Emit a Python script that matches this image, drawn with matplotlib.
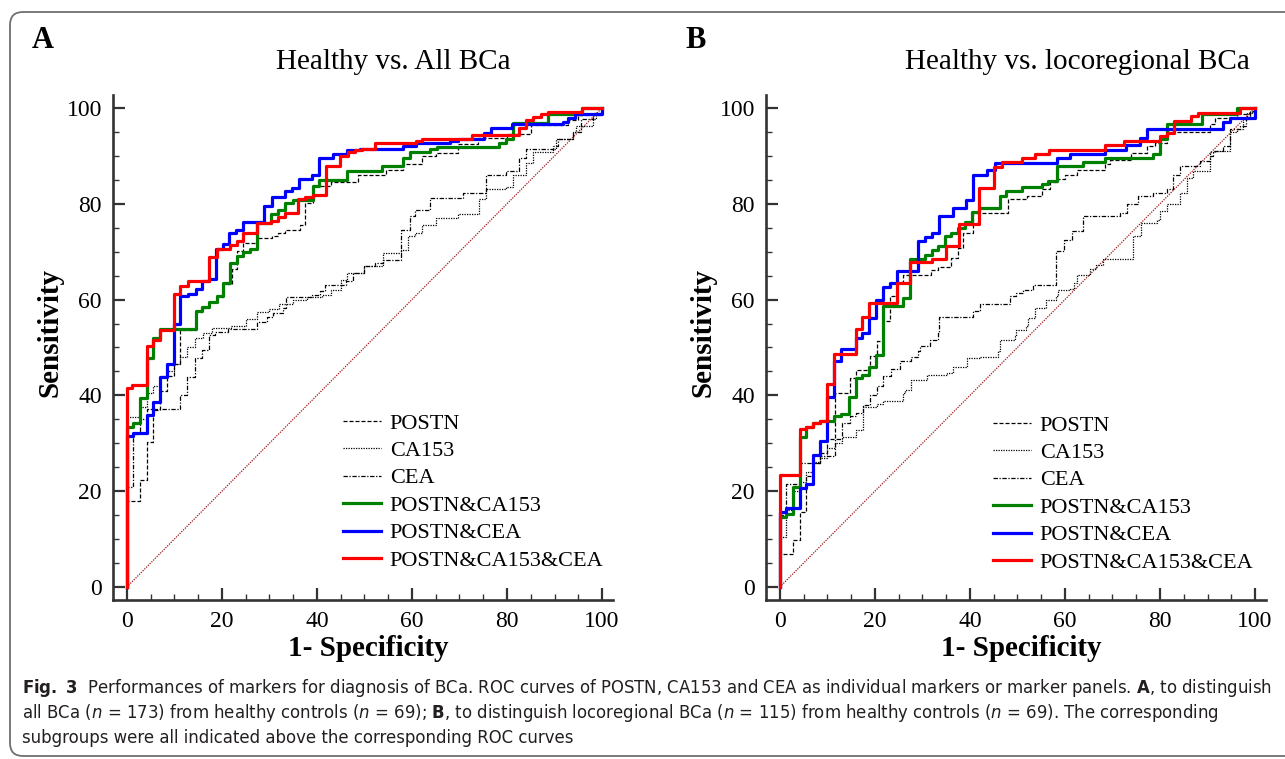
import matplotlib
matplotlib.use('Agg')
import matplotlib.pyplot as plt
from matplotlib.patches import FancyBboxPatch
from matplotlib.ticker import MultipleLocator

plt.rcParams['font.family'] = ['Liberation Serif', 'DejaVu Serif']
plt.rcParams['mathtext.fontset'] = 'custom'
plt.rcParams['mathtext.rm'] = 'DejaVu Sans:stretch=condensed'
plt.rcParams['mathtext.it'] = 'DejaVu Sans:slant=italic:stretch=condensed'
plt.rcParams['mathtext.bf'] = 'DejaVu Sans:weight=bold:stretch=condensed'

# ── data: ROC corner points (1-specificity, sensitivity), step "post" ─────────
a_postn = [(0, 0), (0, 18.0), (2.8, 22.3), (4.2, 30.3), (5.6, 37.0), (7.0, 41.0),
           (8.5, 44.0), (10.0, 46.5), (11.3, 53.7), (14.6, 57.5), (15.9, 58.2),
           (17.4, 59.4), (18.9, 60.5), (20.2, 63.3), (22.1, 66.3), (23.1, 70.1),
           (24.5, 71.9), (27.3, 72.9), (30.5, 73.3), (31.9, 74.0), (33.3, 74.5),
           (36.4, 75.5), (37.5, 80.2), (39.1, 83.7), (42.9, 84.5), (48.6, 86.1),
           (54.6, 87.1), (58.1, 88.2), (62.2, 90.0), (65.0, 90.5), (69.6, 92.4),
           (73.9, 93.8), (80.0, 94.5), (85.0, 96.5), (92.8, 97.5), (95.0, 98.5),
           (100, 100)]
a_ca153 = [(0, 0), (0, 35.5), (2.8, 37.5), (4.2, 40.5), (5.6, 42.0), (7.0, 44.0),
           (8.5, 45.0), (10.0, 46.5), (11.3, 48.0), (12.6, 50.0), (14.4, 52.0),
           (16.0, 53.0), (18.0, 54.0), (22.0, 54.5), (25.0, 56.0), (27.5, 57.5),
           (30.0, 58.0), (32.0, 59.0), (35.0, 60.0), (38.0, 60.5), (41.0, 61.0),
           (43.0, 62.0), (45.0, 64.0), (46.3, 65.6), (50.0, 67.0), (54.0, 69.7),
           (57.8, 70.4), (59.1, 73.2), (60.6, 73.9), (62.2, 75.6), (65.1, 77.1),
           (69.6, 77.8), (74.2, 80.9), (75.6, 83.0), (79.8, 83.4), (81.2, 86.1),
           (84.0, 88.6), (85.4, 90.7), (89.6, 91.4), (90.3, 93.5), (93.8, 94.9),
           (94.5, 96.3), (98.0, 97.6), (98.7, 99.0), (100, 100)]
a_cea = [(0, 0), (0, 20.8), (1.4, 32.0), (2.8, 35.0), (4.2, 37.1), (11.2, 40.1),
         (12.6, 43.9), (14.4, 47.8), (15.9, 49.5), (17.2, 52.6), (18.5, 53.3),
         (21.4, 53.8), (27.3, 55.4), (29.4, 56.4), (30.8, 57.1), (32.9, 58.2),
         (33.6, 60.6), (38.9, 61.0), (40.6, 61.7), (41.7, 63.1), (46.2, 63.8),
         (47.6, 65.6), (50.0, 67.0), (52.2, 67.6), (54.0, 68.3), (57.8, 74.6),
         (59.5, 77.4), (60.6, 78.8), (63.7, 81.2), (70.7, 82.3), (75.6, 86.1),
         (79.8, 86.8), (82.6, 89.6), (84.0, 91.4), (89.6, 92.1), (90.7, 93.5),
         (93.8, 94.9), (95.6, 97.6), (98.0, 99.0), (100, 100)]
a_postn_ca153 = [(0, 0), (0, 33.5), (1.4, 34.2), (2.8, 39.4), (4.2, 47.8), (5.6, 52.0),
                 (7.0, 53.8), (14.6, 57.7), (15.9, 58.4), (17.4, 59.6), (18.9, 60.7),
                 (20.2, 63.5), (21.7, 67.6), (23.1, 69.0), (24.5, 69.9), (25.9, 70.6),
                 (27.3, 76.0), (30.4, 77.8), (31.9, 78.7), (33.3, 80.2), (34.9, 80.8),
                 (39.1, 83.7), (40.4, 84.9), (46.4, 86.8), (53.6, 87.9), (58.1, 89.6),
                 (59.5, 90.7), (63.9, 91.4), (65.3, 91.9), (78.3, 92.7), (79.8, 93.6),
                 (81.2, 96.9), (88.6, 98.7), (95.8, 100), (100, 100)]
a_postn_cea = [(0, 0), (0, 31.6), (1.4, 32.1), (4.2, 35.9), (5.6, 38.7), (7.0, 43.8),
               (8.5, 46.6), (9.9, 55.0), (11.3, 60.7), (12.9, 61.2), (14.5, 62.2),
               (15.9, 63.8), (17.4, 64.3), (18.8, 70.6), (20.2, 71.6), (21.6, 73.9),
               (23.0, 74.6), (24.5, 76.2), (28.9, 79.6), (30.5, 81.5), (33.3, 82.7),
               (34.7, 83.2), (36.2, 85.1), (39.0, 86.1), (40.4, 89.6), (43.4, 90.3),
               (46.4, 91.2), (49.0, 91.4), (58.1, 92.1), (60.8, 92.6), (68.1, 93.1),
               (69.6, 93.6), (75.2, 94.8), (76.6, 95.9), (81.1, 96.6), (91.7, 97.1),
               (92.8, 97.8), (94.2, 98.7), (100, 100)]
a_all3 = [(0, 0), (0, 41.5), (1.2, 42.1), (4.2, 50.4), (5.6, 51.5), (7.0, 53.7),
          (10.0, 61.2), (11.3, 62.9), (12.9, 63.9), (17.3, 68.9), (18.9, 70.6),
          (21.7, 71.3), (23.1, 72.2), (24.5, 73.9), (27.3, 75.9), (30.3, 76.4),
          (31.9, 77.3), (33.3, 78.0), (36.1, 81.0), (37.5, 81.5), (39.1, 81.9),
          (41.9, 87.9), (44.9, 90.0), (46.6, 90.7), (48.0, 91.2), (49.4, 91.5),
          (52.2, 92.6), (60.8, 93.1), (62.2, 93.6), (72.7, 94.3), (82.5, 95.9),
          (83.9, 97.5), (85.4, 98.2), (87.2, 98.7), (88.6, 99.2), (95.8, 100),
          (100, 100)]

b_postn = [(0, 0), (0, 6.8), (2.8, 9.8), (4.2, 15.7), (5.6, 23.1), (7.0, 25.9),
           (8.4, 28.0), (10.0, 31.0), (11.6, 40.5), (14.7, 43.6), (16.1, 45.4),
           (18.9, 48.2), (20.4, 51.3), (21.8, 55.5), (23.2, 60.7), (24.6, 63.6),
           (26.0, 65.2), (31.9, 66.1), (33.3, 66.9), (36.1, 68.7), (37.5, 70.8),
           (38.5, 74.0), (40.7, 78.1), (48.1, 80.9), (52.1, 81.6), (55.1, 83.0),
           (56.8, 84.5), (58.3, 85.2), (60.0, 85.9), (62.5, 87.1), (68.4, 88.2),
           (69.5, 89.2), (74.0, 90.6), (77.2, 92.0), (79.0, 92.7), (81.4, 94.9),
           (90.5, 96.6), (91.6, 98.0), (96.1, 98.7), (98.9, 99.4), (100, 100)]
b_ca153 = [(0, 0), (0, 10.5), (1.4, 16.0), (2.8, 20.0), (4.2, 22.0), (5.6, 24.0),
           (7.0, 26.0), (8.4, 27.0), (10.0, 29.0), (11.6, 30.0), (13.0, 31.4),
           (16.1, 32.8), (17.5, 37.5), (20.4, 38.3), (21.8, 38.8), (26.0, 40.5),
           (26.3, 41.2), (27.7, 43.2), (30.9, 44.3), (35.1, 44.7), (36.5, 45.9),
           (39.3, 47.8), (42.1, 48.1), (46.0, 49.2), (46.3, 51.6), (49.5, 52.3),
           (49.6, 53.7), (51.9, 54.4), (52.3, 56.1), (53.7, 58.2), (56.1, 60.0),
           (58.2, 60.7), (58.5, 62.0), (61.0, 62.3), (61.8, 63.5), (62.5, 65.2),
           (65.3, 66.3), (66.5, 67.3), (68.1, 68.4), (74.4, 73.2), (76.1, 76.0),
           (79.3, 76.7), (80.0, 78.4), (81.4, 79.9), (84.2, 82.3), (85.6, 85.4),
           (87.0, 86.8), (90.5, 90.7), (91.6, 91.1), (94.7, 94.9), (96.1, 95.6),
           (97.5, 97.6), (98.2, 99.0), (100, 100)]
b_cea = [(0, 0), (0, 15.0), (1.4, 21.6), (4.2, 25.9), (8.4, 27.3), (11.6, 31.0),
         (13.0, 34.2), (14.7, 35.6), (16.1, 36.3), (17.5, 38.0), (18.9, 40.0),
         (20.4, 42.0), (21.8, 44.0), (23.5, 45.5), (25.3, 47.1), (27.7, 48.1),
         (29.1, 49.2), (29.5, 50.3), (31.6, 51.6), (33.3, 53.0), (33.6, 56.3),
         (40.7, 57.7), (42.1, 59.1), (48.4, 60.7), (49.8, 61.4), (51.2, 62.1),
         (53.3, 63.1), (58.2, 70.1), (59.7, 72.5), (61.4, 74.3), (63.9, 77.4),
         (71.6, 78.1), (73.0, 80.0), (75.4, 81.6), (78.6, 82.3), (81.4, 83.0),
         (82.8, 86.1), (84.2, 87.9), (88.5, 89.0), (90.5, 90.0), (91.2, 91.0),
         (93.3, 92.1), (94.7, 95.6), (96.8, 96.3), (98.0, 97.7), (98.9, 99.1),
         (100, 100)]
b_postn_ca153 = [(0, 0), (0, 14.6), (1.4, 15.3), (2.8, 20.8), (4.2, 31.3), (5.6, 33.5),
                 (7.0, 34.2), (8.4, 34.7), (11.4, 35.6), (12.8, 36.1), (14.6, 39.7),
                 (16.0, 43.6), (17.4, 44.3), (18.8, 46.0), (20.2, 48.5), (21.8, 58.6),
                 (26.0, 60.3), (27.4, 68.5), (30.5, 69.4), (32.0, 70.3), (33.3, 71.1),
                 (34.7, 73.2), (36.1, 73.9), (37.6, 74.9), (39.0, 76.1), (40.4, 78.2),
                 (42.0, 79.1), (46.3, 81.6), (47.7, 82.7), (50.9, 83.4), (55.1, 84.1),
                 (56.5, 84.8), (58.3, 87.9), (63.9, 88.7), (68.4, 89.6), (78.6, 90.3),
                 (80.0, 93.5), (81.4, 96.6), (88.8, 98.7), (96.1, 100), (100, 100)]
b_postn_cea = [(0, 0), (0, 15.6), (1.4, 16.4), (4.2, 20.6), (5.6, 21.6), (7.0, 27.6),
               (8.4, 30.4), (10.0, 39.7), (11.4, 47.1), (12.8, 49.6), (16.0, 51.9),
               (17.4, 53.0), (18.8, 56.1), (20.2, 60.0), (21.8, 62.6), (23.2, 63.5),
               (24.6, 66.0), (29.1, 72.2), (30.5, 73.1), (32.1, 73.9), (33.5, 77.4),
               (36.4, 79.1), (39.2, 80.8), (40.6, 86.1), (43.7, 87.0), (45.3, 88.6),
               (58.3, 89.5), (61.0, 90.4), (68.4, 91.3), (72.9, 92.2), (75.8, 93.8),
               (77.2, 95.6), (93.3, 97.1), (94.7, 98.0), (100, 100)]
b_all3 = [(0, 0), (0, 23.4), (4.2, 33.0), (5.6, 33.5), (7.0, 34.2), (8.4, 34.7),
          (10.0, 42.3), (11.4, 48.7), (16.0, 53.8), (17.4, 56.4), (18.8, 59.3),
          (24.6, 63.5), (27.4, 67.8), (32.1, 68.5), (34.9, 71.1), (37.8, 75.7),
          (42.0, 83.3), (45.1, 87.6), (46.7, 88.7), (50.9, 89.5), (53.7, 90.4),
          (56.7, 91.3), (68.4, 92.2), (72.5, 93.1), (80.0, 94.1), (81.4, 94.8),
          (83.0, 97.3), (86.5, 98.3), (88.0, 99.0), (96.8, 100), (100, 100)]

labels = ['POSTN', 'CA153', 'CEA', 'POSTN&CA153', 'POSTN&CEA', 'POSTN&CA153&CEA']
titles = ['Healthy vs. All BCa', 'Healthy vs. locoregional BCa']
letters = ['A', 'B']

styles = [dict(color='k', lw=0.9, ls=(0, (3.2, 1.6))),
          dict(color='k', lw=0.9, ls=(0, (1, 1))),
          dict(color='k', lw=0.9, ls=(0, (3.5, 1.3, 1, 1.3))),
          dict(color='#008000', lw=2.3, ls='-'),
          dict(color='#0000ff', lw=2.3, ls='-'),
          dict(color='#ff0000', lw=2.3, ls='-')]

W, H = 1285, 759
fig = plt.figure(figsize=(W / 100, H / 100), dpi=100)


def fx(px):
    return px / W


def fy(py):
    return 1 - py / H


# rounded frame (right edge runs past the picture)
frame = FancyBboxPatch((0.10, 0.03), 13.5, 7.44,
                       boxstyle='round,pad=0,rounding_size=0.13',
                       transform=fig.dpi_scale_trans, fc='none', ec='#707070', lw=1.3)
fig.patches.append(frame)

panels = [
    dict(curves=[a_postn, a_ca153, a_cea, a_postn_ca153, a_postn_cea, a_all3],
         left=113, title_x=393, letter_x=43, ylab_x=50, xlab_x=368, leg=(343, 413)),
    dict(curves=[b_postn, b_ca153, b_cea, b_postn_ca153, b_postn_cea, b_all3],
         left=766, title_x=1077, letter_x=696, ylab_x=703, xlab_x=1021, leg=(993, 415)),
]

for i, p in enumerate(panels):
    ax = fig.add_axes([fx(p['left']), fy(600), fx(500), (600 - 95) / H])
    ax.plot([0, 100], [0, 100], color='#a01818', lw=0.9, ls=(0, (1, 1)), zorder=1)
    for curve, st, lab in zip(p['curves'], styles, labels):
        xs = [c[0] for c in curve]
        ys = [c[1] for c in curve]
        ax.step(xs, ys, where='post', label=lab, zorder=2, **st)

    ax.set_xlim(-2.9, 102.3)
    ax.set_ylim(-2.7, 102.7)
    for s in ('top', 'right'):
        ax.spines[s].set_visible(False)
    for s in ('left', 'bottom'):
        ax.spines[s].set_linewidth(1.9)
        ax.spines[s].set_color('#333333')
    ax.xaxis.set_major_locator(MultipleLocator(20))
    ax.xaxis.set_minor_locator(MultipleLocator(5))
    ax.yaxis.set_major_locator(MultipleLocator(20))
    ax.yaxis.set_minor_locator(MultipleLocator(5))
    ax.tick_params(which='major', direction='in', length=8.5, width=1.6,
                   color='#333333', labelsize=17, pad=8)
    ax.tick_params(which='minor', direction='in', length=4, width=1.0, color='#333333')
    ax.tick_params(axis='y', which='major', pad=8)

    ax.legend(loc='upper left', bbox_to_anchor=(fx(p['leg'][0]), fy(p['leg'][1])),
              bbox_transform=fig.transFigure, frameon=False, fontsize=16,
              borderpad=0, borderaxespad=0, handlelength=1.72,
              handletextpad=0.38, labelspacing=0.31)

    fig.text(fx(p['title_x']), fy(62), titles[i], fontsize=21, ha='center', va='center')
    fig.text(fx(p['letter_x']), fy(40), letters[i], fontsize=22, fontweight='bold',
             ha='center', va='center')
    fig.text(fx(p['ylab_x']), fy(332), 'Sensitivity', fontsize=21, fontweight='bold',
             rotation=90, ha='center', va='center')
    fig.text(fx(p['xlab_x']), fy(649), '1- Specificity', fontsize=21, fontweight='bold',
             ha='center', va='center')

# caption
cap_lines = [
    r'$\mathbf{Fig.\ 3}$  Performances of markers for diagnosis of BCa. ROC curves of POSTN, '
    r'CA153 and CEA as individual markers or marker panels. $\mathbf{A}$, to distinguish',
    r'all BCa ($n$ = 173) from healthy controls ($n$ = 69); $\mathbf{B}$, to distinguish '
    r'locoregional BCa ($n$ = 115) from healthy controls ($n$ = 69). The corresponding',
    'subgroups were all indicated above the corresponding ROC curves',
]
cap_y = [688, 713, 738]
size = 13.5
t0 = fig.text(fx(22), fy(cap_y[0]), cap_lines[0], fontsize=size, family='DejaVu Sans',
              stretch='condensed', ha='left', va='center', color='#231f20')
fig.canvas.draw()
w = t0.get_window_extent().width
size = size * 1254 / w
t0.set_fontsize(size)
for line, y in zip(cap_lines[1:], cap_y[1:]):
    fig.text(fx(22), fy(y), line, fontsize=size, family='DejaVu Sans',
             stretch='condensed', ha='left', va='center', color='#231f20')

fig.savefig('out.png', dpi=100)
